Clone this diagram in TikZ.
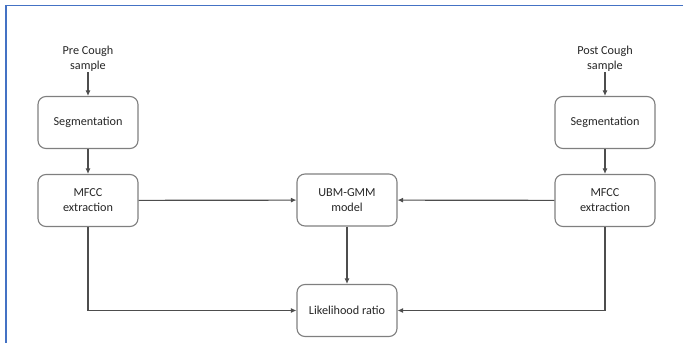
\documentclass[tikz,border=0pt]{standalone}
\usepackage{fontspec}
\setmainfont{Carlito}
\usetikzlibrary{arrows.meta,positioning}
\definecolor{framecol}{HTML}{4472C4}
\definecolor{linecol}{HTML}{4D4D4D}
\definecolor{boxcol}{HTML}{7F7F7F}
\begin{document}
\begin{tikzpicture}[x=1pt,y=1pt,
  procbox/.style={draw=boxcol,line width=1.1pt,rounded corners=8pt,minimum width=100pt,minimum height=52pt,align=center,font=\fontsize{12.2}{15}\selectfont,text=black!85,inner sep=2pt},
  lbl/.style={align=center,font=\fontsize{12.2}{15}\selectfont,text=black!85,inner sep=1pt},
  conn/.style={draw=linecol,line width=1.2pt,-{Latex[length=5.5pt,width=5pt]}},
  plain/.style={draw=linecol,line width=1.2pt}]
\useasboundingbox (0,0) rectangle (689,343);
\draw[framecol,line width=1.2pt] (683,337.5) -- (6,337.5) -- (6,0);
\node[lbl] (pre) at (88,284.5) {Pre Cough\\sample};
\node[lbl] (post) at (605,284.5) {Post Cough\\sample};
\node[procbox] (seg1) at (88,220.5) {Segmentation};
\node[procbox] (seg2) at (605,220.5) {Segmentation};
\node[procbox] (mfcc1) at (88,142.5) {MFCC\\extraction};
\node[procbox] (mfcc2) at (605,142.5) {MFCC\\extraction};
\node[procbox] (ubm) at (347,143) {UBM-GMM\\model};
\node[procbox] (lr) at (347,32.5) {Likelihood ratio};
\draw[conn] (pre) -- (seg1);
\draw[conn] (post) -- (seg2);
\draw[conn] (seg1) -- (mfcc1);
\draw[conn] (seg2) -- (mfcc2);
\draw[conn] (mfcc1) -- (ubm);
\draw[conn] (mfcc2) -- (ubm);
\draw[conn] (ubm) -- (lr);
\draw[conn] (mfcc1.south) |- (lr.west);
\draw[conn] (mfcc2.south) |- (lr.east);
\end{tikzpicture}
\end{document}
